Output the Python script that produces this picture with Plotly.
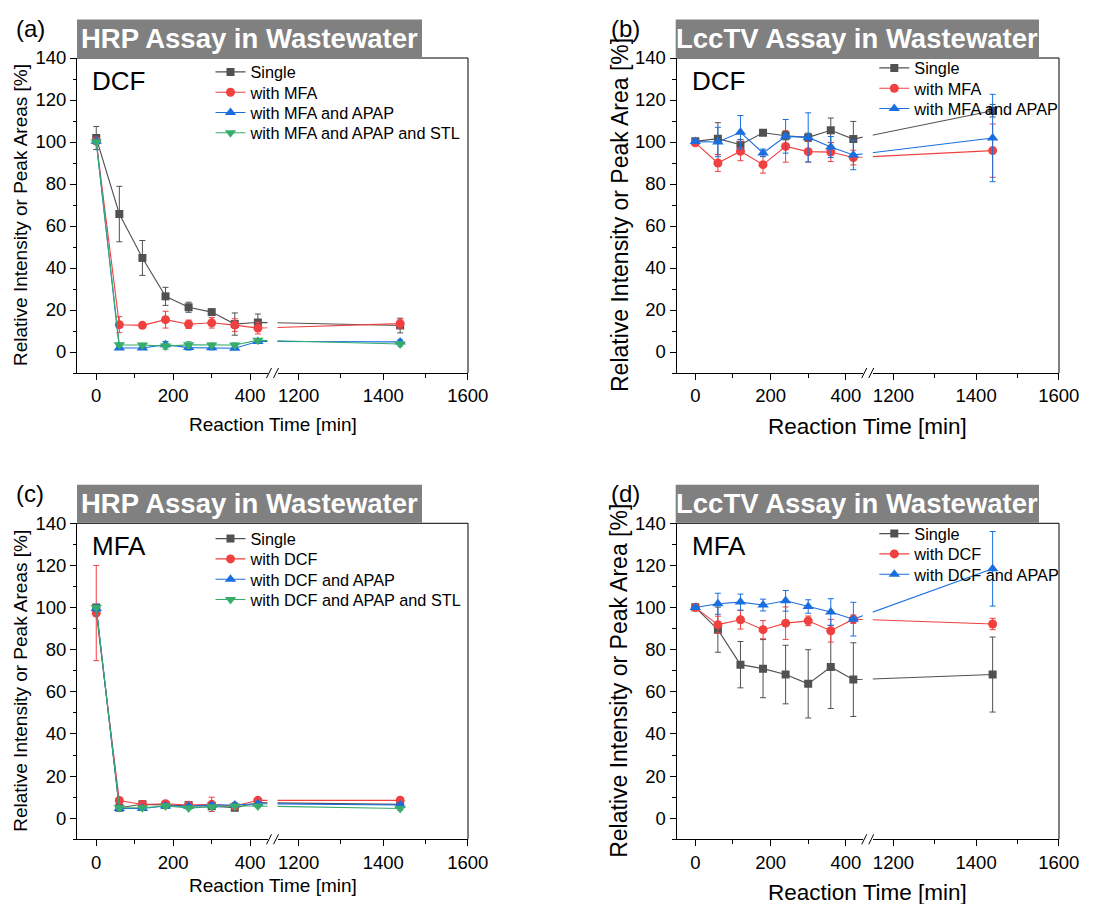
import plotly.graph_objects as go

# ---------------- data ----------------
TIME = [0, 60, 120, 180, 240, 300, 360, 420, 1440]

# (a) HRP, DCF
a_single = [101.9, 65.7, 44.8, 26.5, 21.3, 19.0, 13.3, 14.1, 12.6]
a_single_err = [5.5, 13.2, 8.3, 4.3, 2.4, 1.0, 5.3, 4.0, 3.5]
a_mfa = [100.5, 13.0, 12.7, 15.4, 13.2, 13.9, 12.8, 11.4, 13.5]
a_mfa_err = [1.5, 3.8, 0.8, 4.0, 2.0, 2.5, 3.0, 2.8, 2.2]
a_mfa_apap = [100.3, 1.9, 1.9, 3.5, 2.1, 2.0, 1.8, 5.0, 4.8]
a_mfa_apap_err = [1.0, 0.6, 0.6, 1.5, 1.2, 1.0, 0.6, 0.8, 1.0]
a_mfa_apap_stl = [100.0, 3.4, 3.3, 2.8, 3.4, 3.3, 3.3, 5.6, 3.8]
a_mfa_apap_stl_err = [1.0, 0.8, 0.8, 1.5, 1.5, 1.0, 1.0, 0.8, 1.0]

# (b) LccTV, DCF
b_single = [100.3, 101.6, 98.7, 104.4, 103.0, 102.2, 105.6, 101.4, 114.9]
b_single_err = [1.0, 7.6, 2.5, 1.2, 2.0, 2.0, 5.8, 8.4, 3.0]
b_mfa = [99.6, 90.0, 95.6, 89.2, 97.9, 95.4, 95.2, 92.6, 95.9]
b_mfa_err = [1.0, 4.0, 4.5, 4.0, 7.5, 5.0, 4.5, 3.5, 12.7]
b_mfa_apap = [100.2, 100.0, 104.6, 94.8, 102.7, 102.2, 97.6, 93.8, 101.9]
b_mfa_apap_err = [1.0, 7.0, 8.0, 1.8, 8.0, 11.7, 5.0, 7.0, 20.8]

# (c) HRP, MFA
c_single = [100.0, 5.0, 6.6, 6.3, 6.3, 5.7, 5.0, 7.4, 6.6]
c_single_err = [1.0, 0.8, 0.8, 0.8, 0.8, 0.8, 0.8, 0.8, 0.8]
c_dcf = [97.4, 8.4, 6.5, 6.9, 6.2, 6.6, 5.8, 8.5, 8.5]
c_dcf_err = [22.6, 1.0, 0.8, 0.8, 0.8, 3.4, 0.8, 0.8, 1.5]
c_dcf_apap = [99.6, 4.6, 4.6, 5.8, 5.7, 6.2, 6.3, 6.9, 6.3]
c_dcf_apap_err = [1.5, 0.8, 0.8, 0.8, 0.8, 0.8, 0.8, 0.8, 0.8]
c_dcf_apap_stl = [100.0, 5.0, 5.0, 5.8, 4.9, 5.4, 5.8, 5.8, 4.6]
c_dcf_apap_stl_err = [1.0, 0.8, 0.8, 0.8, 0.8, 0.8, 0.8, 0.8, 0.8]

# (d) LccTV, MFA
d_single = [100.1, 89.5, 72.9, 71.0, 68.2, 63.8, 71.8, 65.8, 68.2]
d_single_err = [0.8, 10.7, 11.0, 13.8, 13.9, 16.2, 19.7, 17.5, 17.8]
d_dcf = [100.0, 91.9, 94.2, 89.5, 92.6, 93.7, 89.0, 94.5, 92.2]
d_dcf_err = [0.8, 4.0, 4.4, 4.3, 7.7, 2.3, 5.4, 2.0, 2.7]
d_dcf_apap = [100.0, 101.8, 102.6, 101.2, 103.2, 100.5, 97.9, 94.5, 118.4]
d_dcf_apap_err = [0.8, 5.0, 3.8, 2.8, 4.9, 3.2, 6.3, 8.0, 17.7]

# ---------------- styling / geometry ----------------
W, H = 1093, 904
FONT = "Arial, Liberation Sans, sans-serif"
GRAY = "#515151"
RED = "#F14040"
BLUE = "#1A6FDF"
GREEN = "#37AD6B"

XL = [-50, 445]
XR = [1150, 1600.5]
YR = [-10, 140]
GAP = 10
LEG_STEP = 20.3

COLS = [(77, 468), (676.5, 1059)]
ROWS = [(58, 373), (523.3, 839.3)]


def fx(p):
    return p / W


def fy(p):
    return 1 - p / H


panels = [
    dict(col=0, row=0, label="(a)", title="HRP Assay in Wastewater", comp="DCF",
         ytitle="Relative Intensity or Peak Areas [%]", ysize=19, xsize=19,
         xt_y=424, box=(77, 422), leg=(210.5, 72.3),
         series=[("Single", a_single, a_single_err, GRAY, "square", 8),
                 ("with MFA", a_mfa, a_mfa_err, RED, "circle", 9),
                 ("with MFA and APAP", a_mfa_apap, a_mfa_apap_err, BLUE, "triangle-up", 10),
                 ("with MFA and APAP and STL", a_mfa_apap_stl, a_mfa_apap_stl_err, GREEN, "triangle-down", 10)]),
    dict(col=1, row=0, label="(b)", title="LccTV Assay in Wastewater", comp="DCF",
         ytitle="Relative Intensity or Peak Area [%]", ysize=23, xsize=22.5,
         xt_y=426.5, box=(675.7, 1039), leg=(874.3, 68.3),
         series=[("Single", b_single, b_single_err, GRAY, "square", 8),
                 ("with MFA", b_mfa, b_mfa_err, RED, "circle", 9),
                 ("with MFA and APAP", b_mfa_apap, b_mfa_apap_err, BLUE, "triangle-up", 10)]),
    dict(col=0, row=1, label="(c)", title="HRP Assay in Wastewater", comp="MFA",
         ytitle="Relative Intensity or Peak Areas [%]", ysize=19, xsize=19,
         xt_y=885, box=(77, 422), leg=(210.5, 539),
         series=[("Single", c_single, c_single_err, GRAY, "square", 8),
                 ("with DCF", c_dcf, c_dcf_err, RED, "circle", 9),
                 ("with DCF and APAP", c_dcf_apap, c_dcf_apap_err, BLUE, "triangle-up", 10),
                 ("with DCF and APAP and STL", c_dcf_apap_stl, c_dcf_apap_stl_err, GREEN, "triangle-down", 10)]),
    dict(col=1, row=1, label="(d)", title="LccTV Assay in Wastewater", comp="MFA",
         ytitle="Relative Intensity or Peak Area [%]", ysize=23, xsize=22.5,
         xt_y=892, box=(675.7, 1039), leg=(874.3, 534),
         series=[("Single", d_single, d_single_err, GRAY, "square", 8),
                 ("with DCF", d_dcf, d_dcf_err, RED, "circle", 9),
                 ("with DCF and APAP", d_dcf_apap, d_dcf_apap_err, BLUE, "triangle-up", 10)]),
]

fig = go.Figure()
layout = dict(width=W, height=H, margin=dict(l=0, r=0, t=0, b=0, autoexpand=False), autosize=False,
              paper_bgcolor="white", plot_bgcolor="white",
              font=dict(family=FONT, color="black"), shapes=[], annotations=[])

axis_common = dict(showgrid=False, zeroline=False, showline=True, linecolor="black",
                   linewidth=1, ticks="outside", ticklen=6, tickwidth=1, tickcolor="black",
                   automargin=False,
                   tickfont=dict(family=FONT, size=18.5, color="black"))

leg_count = 0
for i, p in enumerate(panels):
    L, R = COLS[p["col"]]
    T, B = ROWS[p["row"]]
    mid = (L + R) / 2
    ld = (L, mid - GAP / 2)
    rd = (mid + GAP / 2, R)

    xl_id = 2 * i + 1
    xr_id = 2 * i + 2
    y_id = i + 1
    xl_ref = "x" if xl_id == 1 else f"x{xl_id}"
    xr_ref = f"x{xr_id}"
    y_ref = "y" if y_id == 1 else f"y{y_id}"

    layout["xaxis" if xl_id == 1 else f"xaxis{xl_id}"] = dict(
        axis_common, domain=[fx(ld[0]), fx(ld[1])], range=XL, tick0=0, dtick=200,
        anchor=y_ref, minor=dict(dtick=100, ticks="outside", ticklen=3.5, tickcolor="black", showgrid=False))
    layout[f"xaxis{xr_id}"] = dict(
        axis_common, domain=[fx(rd[0]), fx(rd[1])], range=XR, tick0=0, dtick=200,
        anchor=y_ref, minor=dict(dtick=100, ticks="outside", ticklen=3.5, tickcolor="black", showgrid=False))
    layout["yaxis" if y_id == 1 else f"yaxis{y_id}"] = dict(
        axis_common, domain=[fy(B), fy(T)], range=YR, tick0=0, dtick=20, anchor=xl_ref,
        minor=dict(dtick=10, ticks="outside", ticklen=3.5, tickcolor="black", showgrid=False))

    # conversions between the two halves of the broken axis (screen-straight bridge)
    def right_to_left(xv, ld=ld, rd=rd):
        sx = rd[0] + (xv - XR[0]) / (XR[1] - XR[0]) * (rd[1] - rd[0])
        return XL[0] + (sx - ld[0]) / (ld[1] - ld[0]) * (XL[1] - XL[0])

    def left_to_right(xv, ld=ld, rd=rd):
        sx = ld[0] + (xv - XL[0]) / (XL[1] - XL[0]) * (ld[1] - ld[0])
        return XR[0] + (sx - rd[0]) / (rd[1] - rd[0]) * (XR[1] - XR[0])

    for k, (name, vals, errs, color, sym, msize) in enumerate(p["series"]):
        leg_count += 1
        leg_name = "legend" if leg_count == 1 else f"legend{leg_count}"
        # one legend box per entry so the entry spacing matches the original
        layout[leg_name] = dict(x=fx(p["leg"][0]), y=fy(p["leg"][1] + k * LEG_STEP - 17.5),
                                xanchor="left", yanchor="top",
                                bgcolor="rgba(0,0,0,0)", borderwidth=0,
                                font=dict(family=FONT, size=16.3, color="black"))
        common = dict(mode="lines+markers", line=dict(color=color, width=1.1),
                      marker=dict(symbol=sym, size=msize, color=color, line=dict(width=0)),
                      name=name, legend=leg_name)
        fig.add_trace(go.Scatter(
            x=TIME[:-1] + [right_to_left(TIME[-1])], y=vals,
            error_y=dict(type="data", array=errs[:-1] + [0], color=color, thickness=1, width=3),
            xaxis=xl_ref, yaxis=y_ref, showlegend=True, **common))
        fig.add_trace(go.Scatter(
            x=[left_to_right(TIME[-2]), TIME[-1]], y=vals[-2:],
            error_y=dict(type="data", array=[0, errs[-1]], color=color, thickness=1, width=3),
            xaxis=xr_ref, yaxis=y_ref, showlegend=False, **common))

    # frame: top and right borders, break marks, title box
    layout["shapes"] += [
        dict(type="line", xref="paper", yref="paper", x0=fx(L), x1=fx(R), y0=fy(T), y1=fy(T),
             line=dict(color="black", width=1)),
        dict(type="line", xref="paper", yref="paper", x0=fx(R), x1=fx(R), y0=fy(T), y1=fy(B),
             line=dict(color="black", width=1)),
        dict(type="line", xref="paper", yref="paper", x0=fx(mid - 6), x1=fx(mid - 1), y0=fy(B + 5), y1=fy(B - 5),
             line=dict(color="black", width=1)),
        dict(type="line", xref="paper", yref="paper", x0=fx(mid + 1), x1=fx(mid + 6), y0=fy(B + 5), y1=fy(B - 5),
             line=dict(color="black", width=1)),
        dict(type="rect", xref="paper", yref="paper", x0=fx(p["box"][0]), x1=fx(p["box"][1]),
             y0=fy(T - 38.5), y1=fy(T - 0.5), fillcolor="#808080", line=dict(width=0), layer="above"),
    ]

    bx = (p["box"][0] + p["box"][1]) / 2
    layout["annotations"] += [
        dict(text=f"<b>{p['title']}</b>", x=fx(bx), y=fy(T - 19.5), xref="paper", yref="paper",
             showarrow=False, xanchor="center", yanchor="middle",
             font=dict(family=FONT, size=27.5, color="white")),
        dict(text=p["label"], x=fx(L - 47 if p["col"] == 0 else L - 51), y=fy(T - 30), xref="paper", yref="paper",
             showarrow=False, xanchor="center", yanchor="middle",
             font=dict(family=FONT, size=24, color="black")),
        dict(text=p["comp"], x=fx(L + 13), y=fy(T + 23), xref="paper", yref="paper",
             showarrow=False, xanchor="left", yanchor="middle",
             font=dict(family=FONT, size=26, color="black")),
        dict(text=p["ytitle"], x=fx(20.5 if p["col"] == 0 else 619.5), y=fy((T + B) / 2),
             xref="paper", yref="paper", showarrow=False, textangle=-90,
             xanchor="center", yanchor="middle",
             font=dict(family=FONT, size=p["ysize"], color="black")),
        dict(text="Reaction Time [min]", x=fx(mid), y=fy(p["xt_y"]), xref="paper", yref="paper",
             showarrow=False, xanchor="center", yanchor="middle",
             font=dict(family=FONT, size=p["xsize"], color="black")),
    ]

fig.update_layout(**layout)
fig.write_html("out.html", config={"displayModeBar": False})
